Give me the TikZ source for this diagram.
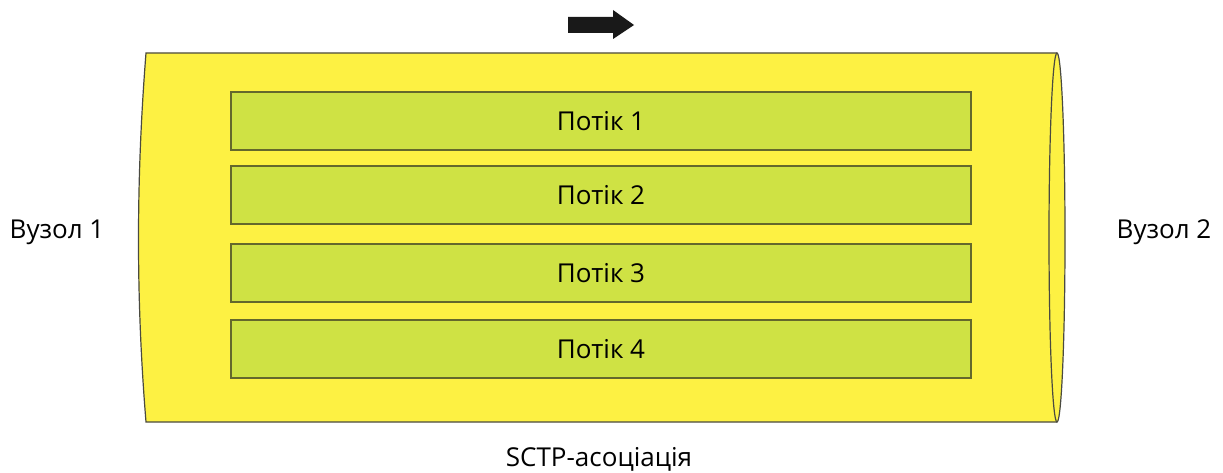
\documentclass[tikz,border=0pt]{standalone}
\usepackage{fontspec}
\setmainfont{Open Sans}
\definecolor{tubefill}{HTML}{FDF143}
\definecolor{streamfill}{HTML}{CFE244}
\definecolor{streamline}{HTML}{64682C}
\definecolor{edge}{HTML}{4A4A40}
\begin{document}
\begin{tikzpicture}[x=1pt,y=-1pt,
  stream/.style={draw=streamline,fill=streamfill,line width=1.4pt,minimum width=740pt,minimum height=58pt,inner sep=0pt,font=\fontsize{26}{30}\selectfont},
  label/.style={font=\fontsize{26}{30}\selectfont,inner sep=0pt}]
\useasboundingbox (0,0) rectangle (1223,473);
% association tube
\coordinate (tl) at (146,53);
\coordinate (bl) at (146,422);
\coordinate (tr) at (1057,53);
\coordinate (br) at (1057,422);
\fill[tubefill] (tl) -- (tr)
  .. controls (1061.42,53) and (1065,135.6) .. (1065,237.5)
  .. controls (1065,339.4) and (1061.42,422) .. (br)
  -- (bl) .. controls (136,300) and (136,180) .. (tl) -- cycle;
\draw[edge,line width=1.2pt] (tr) -- (tl) .. controls (136,180) and (136,300) .. (bl) -- (br);
\draw[edge,line width=1.2pt] (1057,237.5) ellipse[x radius=8,y radius=184.5];
% streams
\node[stream] (s1) at (601,121) {Потік 1};
\node[stream] (s2) at (601,195) {Потік 2};
\node[stream] (s3) at (601,273) {Потік 3};
\node[stream] (s4) at (601,349) {Потік 4};
% endpoints
\node[label] (n1) at (57,232) {Вузол 1};
\node[label] (n2) at (1164,232) {Вузол 2};
\node[label] (assoc) at (599,459) {SCTP-асоціація};
% direction arrow
\fill[black!90] (568,17) -- (613,17) -- (613,10) -- (634,25) -- (613,39) -- (613,33) -- (568,33) -- cycle;
\end{tikzpicture}
\end{document}
